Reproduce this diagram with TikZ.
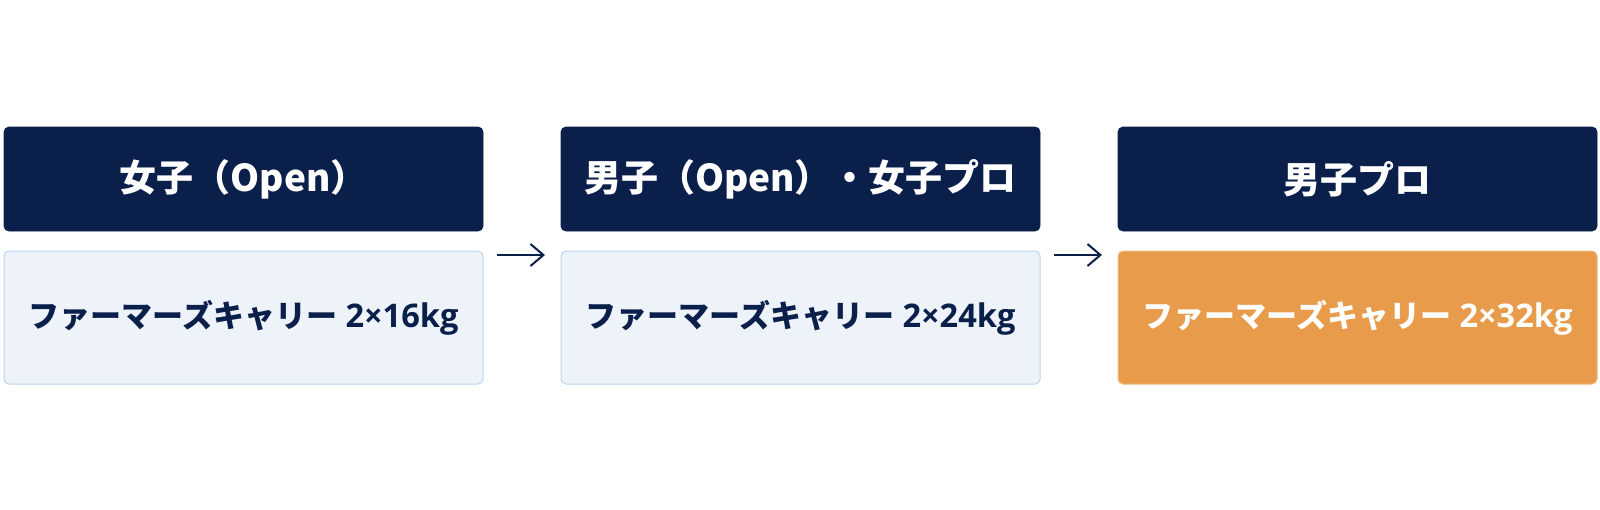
\documentclass[tikz,border=0pt]{standalone}
\usepackage{fontspec}
\setmainfont{Noto Sans CJK JP}
\newfontfamily\latinfont{Open Sans}[Scale=1.05]
\usetikzlibrary{
	arrows.meta,
	positioning
}
\definecolor{navy}{HTML}{0B1F4B}
\definecolor{paleblue}{HTML}{EEF3FA}
\definecolor{edgeblue}{HTML}{BCD4EE}
\definecolor{carrot}{HTML}{E89C4B}
\newcommand{\kg}[1]{{\latinfont\bfseries #1}}
\begin{document}
\begin{tikzpicture}[
			node distance = 10pt and 39pt,
			HeadStyle/.style={draw=navy, fill=navy, text=white, rounded corners=2.5pt, minimum width=239.5pt, minimum height=52pt, outer sep=0pt, inner sep=0pt, font=\fontsize{18.5}{22}\selectfont\bfseries},
			LoadStyle/.style={draw=edgeblue, line width=0.5pt, fill=paleblue, text=navy, rounded corners=2.5pt, minimum width=239.5pt, minimum height=66.5pt, outer sep=0pt, inner sep=0pt, font=\fontsize{15.5}{19}\selectfont\bfseries}]
			\useasboundingbox (0,0) rectangle (800pt,-254.5pt);
			\node [HeadStyle, anchor=north west] (h1) at (2pt,-63.5pt) {女子（Open）};
			\node [HeadStyle, right=of h1] (h2) {男子（Open）・女子プロ};
			\node [HeadStyle, right=of h2] (h3) {男子プロ};
			\node [LoadStyle, below=of h1] (b1) {ファーマーズキャリー\kg{ 2×16kg}};
			\node [LoadStyle, below=of h2] (b2) {ファーマーズキャリー\kg{ 2×24kg}};
			\node [LoadStyle, below=of h3, fill=carrot, draw=carrot!70!white, text=white] (b3) {ファーマーズキャリー\kg{ 2×32kg}};
			\begin{scope}[draw=navy, line width=1pt, -{Straight Barb[length=6.5pt, width=11pt]}]
				\draw ([xshift=7pt, yshift=-2pt]b1.north east) to ([xshift=-8pt, yshift=-2pt]b2.north west);
				\draw ([xshift=7pt, yshift=-2pt]b2.north east) to ([xshift=-8pt, yshift=-2pt]b3.north west);
			\end{scope}
		\end{tikzpicture}
\end{document}
